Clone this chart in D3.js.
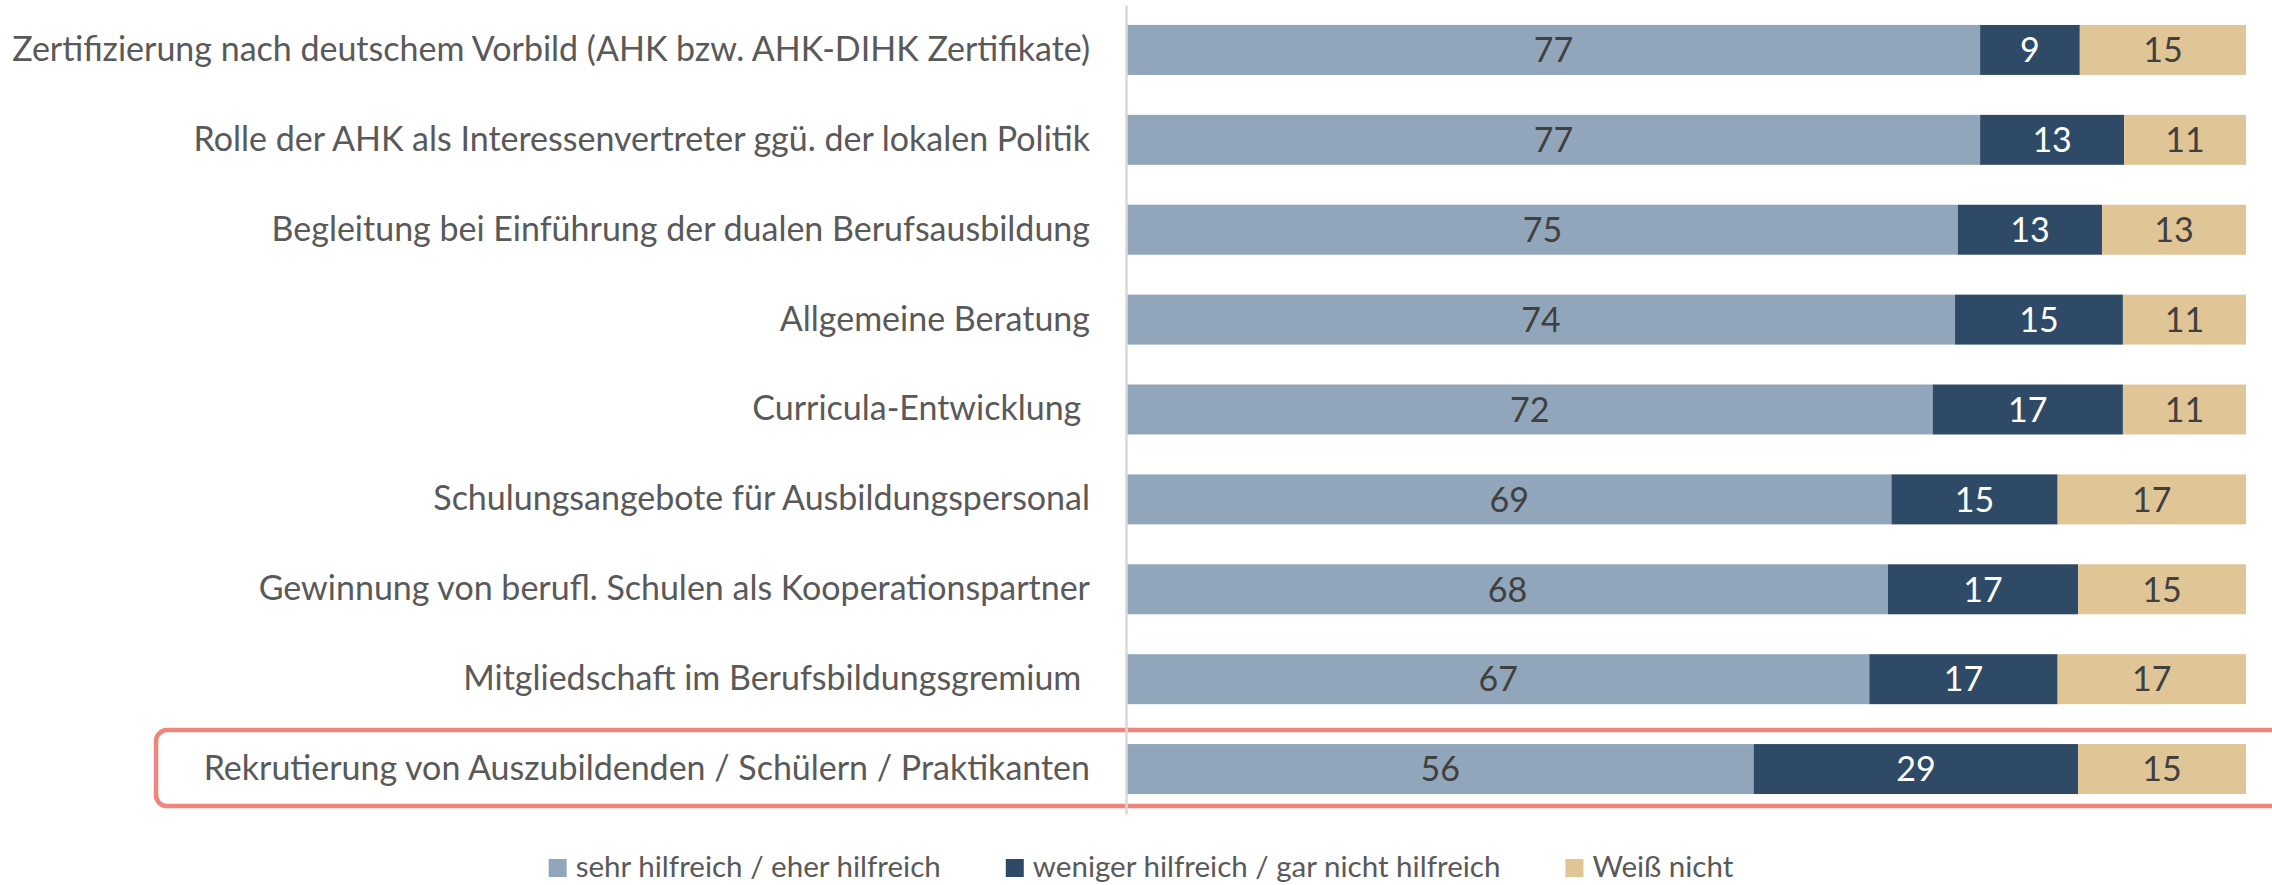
<!DOCTYPE html>
<html>
<head>
<meta charset="utf-8">
<script src="https://cdn.jsdelivr.net/npm/d3@7"></script>
<style>
  html, body { margin: 0; padding: 0; background: #fff; }
  svg { display: block; }
  text { font-family: Lato, "Open Sans", sans-serif; }
</style>
</head>
<body>
<svg id="chart" width="2272" height="885"></svg>
<script>
const categories = [
  "Zertifizierung nach deutschem Vorbild (AHK bzw. AHK-DIHK Zertifikate)",
  "Rolle der AHK als Interessenvertreter ggü. der lokalen Politik",
  "Begleitung bei Einführung der dualen Berufsausbildung",
  "Allgemeine Beratung",
  "Curricula-Entwicklung ",
  "Schulungsangebote für Ausbildungspersonal",
  "Gewinnung von berufl. Schulen als Kooperationspartner",
  "Mitgliedschaft im Berufsbildungsgremium ",
  "Rekrutierung von Auszubildenden / Schülern / Praktikanten"
];
const seriesNames = ["sehr hilfreich / eher hilfreich", "weniger hilfreich / gar nicht hilfreich", "Weiß nicht"];
const helpful    = [77, 77, 75, 74, 72, 69, 68, 67, 56];
const notHelpful = [9, 13, 13, 15, 17, 15, 17, 17, 29];
const dontKnow   = [15, 11, 13, 11, 11, 17, 15, 17, 15];
const highlighted = "Rekrutierung von Auszubildenden / Schülern / Praktikanten";

const colors = ["#91a6bb", "#2e4a66", "#e0c597"];
const valueColors = ["#404040", "#ffffff", "#404040"];

const svg = d3.select("#chart");
const rows = categories.map((c, i) => ({cat: c, s0: helpful[i], s1: notHelpful[i], s2: dontKnow[i]}));
const keys = ["s0", "s1", "s2"];
const stacked = d3.stack().keys(keys).offset(d3.stackOffsetExpand)(rows);

const x = d3.scaleLinear().domain([0, 1]).range([1127, 2246]);
const y = d3.scaleBand().domain(categories).range([5, 814]).paddingInner(0.444).paddingOuter(0.222);

// highlight box
const last = y(highlighted);
svg.append("rect")
  .attr("x", 156).attr("y", last - 14)
  .attr("width", 2300).attr("height", y.bandwidth() + 26)
  .attr("rx", 11).attr("ry", 11)
  .attr("fill", "none").attr("stroke", "#f0857d").attr("stroke-width", 4.5);

// bars
stacked.forEach((layer, k) => {
  const g = svg.append("g");
  g.selectAll("rect").data(layer).enter().append("rect")
    .attr("x", d => x(d[0]))
    .attr("y", d => y(d.data.cat))
    .attr("width", d => x(d[1]) - x(d[0]))
    .attr("height", y.bandwidth())
    .attr("fill", colors[k]);
  g.selectAll("text").data(layer).enter().append("text")
    .attr("x", d => (x(d[0]) + x(d[1])) / 2)
    .attr("y", d => y(d.data.cat) + y.bandwidth() / 2)
    .attr("dy", "0.36em")
    .attr("text-anchor", "middle")
    .attr("font-size", 34)
    .attr("fill", valueColors[k])
    .text(d => d.data[keys[k]]);
});

// axis line + category labels
const yAxis = d3.axisLeft(y).tickSize(0).tickPadding(36);
const ag = svg.append("g").attr("transform", "translate(1126,0)").call(yAxis);
ag.select(".domain").attr("stroke", "#d9d9d9").attr("stroke-width", 2.5);
const labels = ag.selectAll(".tick text")
  .attr("font-size", 31)
  .attr("fill", "#595959")
  .attr("font-family", "Lato, 'Open Sans', sans-serif")
  .style("white-space", "pre");
// fit the longest label to the reference extent (x ≈ 12 .. 1090)
let maxW = 0;
labels.each(function() { maxW = Math.max(maxW, this.getComputedTextLength()); });
labels.attr("font-size", 31 * 1078 / maxW);

// legend
const legend = svg.append("g");
const items = legend.selectAll("g").data(seriesNames).enter().append("g");
items.append("rect").attr("width", 18).attr("height", 18).attr("y", 859)
  .attr("fill", (d, i) => colors[i]);
const ltext = items.append("text").attr("x", 27).attr("y", 877)
  .attr("font-size", 26).attr("fill", "#595959").text(d => d);
let tw = 0;
ltext.each(function() { tw += this.getComputedTextLength(); });
// reference legend spans x ≈ 549 .. 1734
const targetText = 1185 - 3 * 27 - 2 * 65;
const lfs = Math.min(31, 26 * targetText / tw);
ltext.attr("font-size", lfs);
const widths = [];
items.each(function() {
  widths.push(27 + this.querySelector("text").getComputedTextLength());
});
const total = d3.sum(widths) + 65 * (widths.length - 1);
let cx = 1141 - total / 2;
items.each(function(d, i) {
  d3.select(this).attr("transform", `translate(${cx},0)`);
  cx += widths[i] + 65;
});
</script>
</body>
</html>
